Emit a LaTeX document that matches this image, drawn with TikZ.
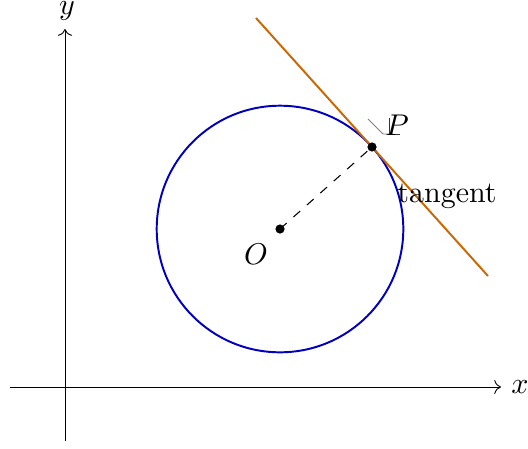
\documentclass[tikz,border=0pt]{standalone}
\usetikzlibrary{arrows.meta}
\definecolor{circblue}{RGB}{0,0,190}
\definecolor{tanorange}{RGB}{204,102,0}
\tikzset{
  axis/.style={->,line width=0.3pt},
  dot/.style={fill=black},
  lbl/.style={inner sep=1pt}
}
\begin{document}
\begin{tikzpicture}[x=0.3333pt,y=-0.3333pt]
\useasboundingbox (0,0) rectangle (528,448);
% axes
\coordinate (xs) at (10,387);
\coordinate (xe) at (501,387);
\coordinate (ys) at (65,441);
\coordinate (ye) at (65,29);
\draw[axis] (xs) -- (xe);
\draw[axis] (ys) -- (ye);
\node[lbl] (xl) at (520,387) {$x$};
\node[lbl] (yl) at (67,11) {$y$};
% circle
\coordinate (O) at (280,229);
\coordinate (P) at (372,147);
\draw[circblue, line width=0.65pt] (O) circle[radius=123.3];
% tangent
\coordinate (T1) at (256,18);
\coordinate (T2) at (488,276);
\draw[tanorange, line width=0.65pt] (T1) -- (T2);
% radius
\draw[dashed, line width=0.35pt] (O) -- (P);
% right-angle mark
\coordinate (r1) at (368,119);
\coordinate (r2) at (383,134);
\coordinate (r3) at (389.5,134);
\coordinate (r4) at (389.5,118);
\coordinate (r5) at (400,134);
\draw[gray, line width=0.3pt] (r1) -- (r2) -- (r3);
\draw[black!80, line width=0.3pt] (r4) -- (r3) -- (r5);
\fill[dot] (O) circle[radius=4.6];
\fill[dot] (P) circle[radius=4.6];
\node[lbl] (Ol) at (256,254) {$O$};
\node[lbl] (Pl) at (397,125) {$P$};
\node[lbl] (tl) at (447,196) {tangent};
\end{tikzpicture}
\end{document}
